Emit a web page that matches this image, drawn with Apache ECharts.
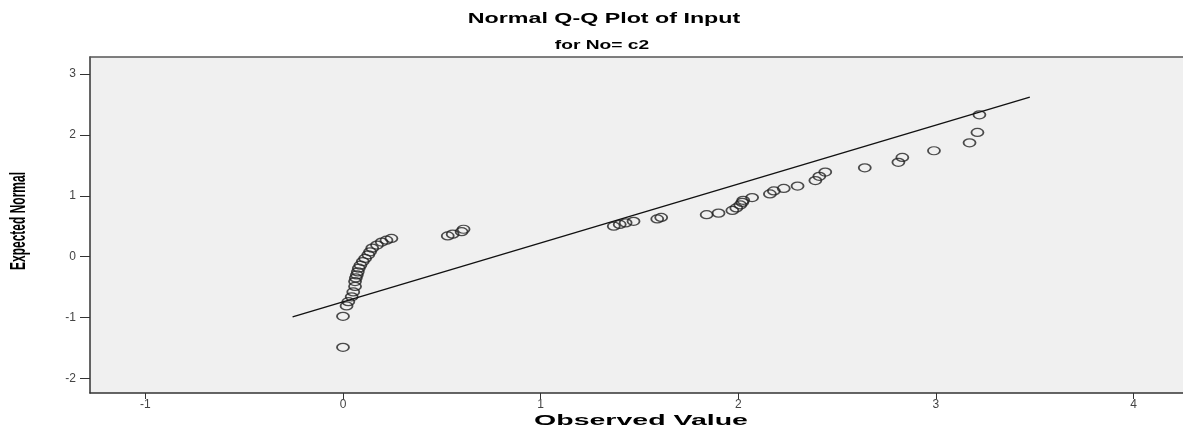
<!DOCTYPE html>
<html>
<head>
<meta charset="utf-8">
<script src="https://cdn.jsdelivr.net/npm/echarts@6/dist/echarts.min.js"></script>
<style>
  html, body { margin: 0; padding: 0; background: #fff; }
  #chart { width: 1183px; height: 434px; }
</style>
</head>
<body>
<div id="chart"></div>
<script>
// observed values and their expected normal scores
const observed = [
  0.0, 0.0, 0.018, 0.027, 0.044, 0.052, 0.061, 0.061, 0.065, 0.07,
  0.075, 0.08, 0.088, 0.1, 0.112, 0.128, 0.137, 0.148, 0.172, 0.196,
  0.22, 0.245,
  0.53, 0.555, 0.6, 0.61,
  1.37, 1.4, 1.43, 1.47, 1.59, 1.61,
  1.84, 1.9, 1.97, 1.99, 2.01, 2.02, 2.025, 2.07,
  2.16, 2.18, 2.23, 2.3, 2.39, 2.41, 2.44, 2.64,
  2.81, 2.83, 2.99, 3.17, 3.21, 3.22
]
const expected = [
  -1.49, -0.98, -0.81, -0.74, -0.66, -0.58, -0.49, -0.41, -0.35, -0.3,
  -0.25, -0.19, -0.14, -0.08, -0.03, 0.03, 0.08, 0.14, 0.19, 0.24,
  0.27, 0.3,
  0.34, 0.37, 0.41, 0.45,
  0.5, 0.53, 0.555, 0.58, 0.62, 0.645,
  0.69, 0.715, 0.76, 0.8, 0.85, 0.89, 0.925, 0.97,
  1.03, 1.08, 1.12, 1.16, 1.25, 1.32, 1.39, 1.46,
  1.55, 1.63, 1.74, 1.87, 2.04, 2.33
]
// reference line end points
const lineX = [-0.255, 3.475]
const lineY = [-0.99, 2.62]

const xTicks = [-1, 0, 1, 2, 3, 4]
const yTicks = [-2, -1, 0, 1, 2, 3]

const chart = echarts.init(document.getElementById('chart'))

const font = '"Liberation Sans", Arial, sans-serif'

chart.setOption({
  animation: false,
  backgroundColor: '#ffffff',
  grid: {
    left: 90,
    right: 0,
    top: 57,
    bottom: 41,
    show: true,
    backgroundColor: '#f0f0f0',
    borderWidth: 0
  },
  xAxis: [
    {
      type: 'value',
      position: 'bottom',
      min: -1.28,
      max: 4.25,
      splitLine: { show: false },
      axisLine: { show: true, onZero: false, lineStyle: { color: '#333', width: 1.5 } },
      axisTick: { show: true, customValues: xTicks, length: 6, lineStyle: { color: '#333' } },
      axisLabel: { customValues: xTicks, color: '#444', fontSize: 12, fontFamily: font, margin: 6 }
    },
    {
      type: 'value',
      position: 'top',
      min: -1.28,
      max: 4.25,
      splitLine: { show: false },
      axisLine: { show: true, onZero: false, lineStyle: { color: '#555', width: 1.5 } },
      axisTick: { show: false },
      axisLabel: { show: false }
    }
  ],
  yAxis: {
    type: 'value',
    min: -2.24,
    max: 3.28,
    splitLine: { show: false },
    axisLine: { show: true, onZero: false, lineStyle: { color: '#333', width: 1.5 } },
    axisTick: { show: true, customValues: yTicks, length: 10, lineStyle: { color: '#333' } },
    axisLabel: { customValues: yTicks, color: '#444', fontSize: 12, fontFamily: font, margin: 14 }
  },
  graphic: [
    {
      type: 'text', x: 604, y: 19, scaleX: 1.55,
      style: { text: 'Normal Q-Q Plot of Input', fontSize: 15, fontWeight: 'bold', fontFamily: font, fill: '#000', align: 'center', verticalAlign: 'middle' }
    },
    {
      type: 'text', x: 602, y: 46, scaleX: 1.6,
      style: { text: 'for No= c2', fontSize: 12, fontWeight: 'bold', fontFamily: font, fill: '#000', align: 'center', verticalAlign: 'middle' }
    },
    {
      type: 'text', x: 641, y: 421, scaleX: 1.9,
      style: { text: 'Observed Value', fontSize: 15, fontWeight: 'bold', fontFamily: font, fill: '#000', align: 'center', verticalAlign: 'middle' }
    },
    {
      type: 'text', x: 19, y: 221, rotation: Math.PI / 2, scaleY: 1.8,
      style: { text: 'Expected Normal', fontSize: 12, fontWeight: 'bold', fontFamily: font, fill: '#000', align: 'center', verticalAlign: 'middle' }
    }
  ],
  series: [
    {
      type: 'line',
      data: lineX.map((x, i) => [x, lineY[i]]),
      showSymbol: false,
      silent: true,
      lineStyle: { color: '#111', width: 1.4 }
    },
    {
      type: 'scatter',
      data: observed.map((x, i) => [x, expected[i]]),
      symbol: 'circle',
      symbolSize: [12, 8],
      silent: true,
      itemStyle: { color: 'rgba(0,0,0,0)', borderColor: '#222', borderWidth: 1.5 }
    }
  ]
})
</script>
</body>
</html>
